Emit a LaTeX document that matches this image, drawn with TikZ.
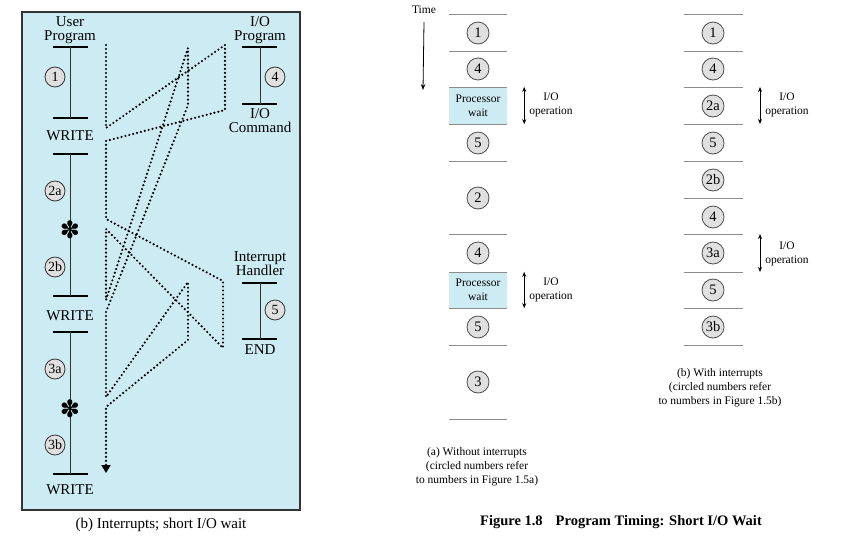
\documentclass[tikz,border=0pt]{standalone}
\usepackage{fontspec}
\setmainfont{Liberation Serif}
\newfontfamily\symfont{DejaVu Sans}
\usepackage{xcolor}
\usetikzlibrary{arrows.meta,positioning}

\definecolor{panelblue}{RGB}{205,235,243}
\definecolor{circgray}{RGB}{224,224,224}

\begin{document}
\begin{tikzpicture}[
    x=1pt, y=-1pt,
    panel/.style={draw=black!80, line width=2.2pt, fill=panelblue},
    bar/.style={line width=1.1pt},
    stem/.style={line width=0.8pt, black!80},
    tbar/.style={line width=1pt, black!45},
    lcirc/.style={circle, draw=black!80, fill=circgray, line width=0.8pt, inner sep=0pt, minimum size=20pt, font=\fontsize{14}{14}\selectfont},
    tcirc/.style={circle, draw=black!70, fill=circgray, line width=0.8pt, inner sep=0pt, minimum size=22pt, font=\fontsize{14.5}{14.5}\selectfont},
    lbl/.style={align=center, inner sep=0pt, font=\fontsize{15}{14}\selectfont},
    small/.style={align=center, inner sep=0pt, font=\fontsize{11.5}{14}\selectfont},
    flow/.style={line width=2.4pt, line cap=round, dash pattern=on 0pt off 4pt},
    span/.style={{Stealth[length=5pt,width=4pt]}-{Stealth[length=5pt,width=4pt]}, line width=0.8pt}
]
\useasboundingbox (0,0) rectangle (848,547);

% Interrupts panel
\draw[panel] (22,12) rectangle (300,510);
\node[lbl] (user) at (70,30) {User\\Program};
\node[lbl] (iop) at (260,30) {I/O\\Program};
\node[lbl] (iocmd) at (260,121) {I/O\\Command};
\node[lbl] (hdl) at (260,264) {Interrupt\\Handler};
\node[lbl] (endh) at (260,350) {END};
\node[lbl] (w1) at (70,136) {WRITE};
\node[lbl] (w2) at (70,316) {WRITE};
\node[lbl] (w3) at (70,490) {WRITE};

\foreach \y in {47,118,154,296,332,474} \draw[bar] (53,\y) -- (88,\y);
\foreach \y in {47,104,283,339} \draw[bar] (242,\y) -- (277,\y);
\draw[stem] (70,47) -- (70,118) (70,154) -- (70,296) (70,332) -- (70,474);
\draw[stem] (260,47) -- (260,104) (260,283) -- (260,339);

\node[lcirc] (c1) at (55,77) {1};
\node[lcirc] (c2a) at (55,191) {2a};
\node[lcirc] (c2b) at (55,267) {2b};
\node[lcirc] (c3a) at (55,369) {3a};
\node[lcirc] (c3b) at (55,445) {3b};
\node[lcirc] (c4) at (275,77) {4};
\node[lcirc] (c5) at (275,310) {5};
\node[inner sep=0pt, font=\symfont\fontsize{24}{24}\selectfont] (ast1) at (70,230) {✽};
\node[inner sep=0pt, font=\symfont\fontsize{24}{24}\selectfont] (ast2) at (70,409) {✽};

% Control flow
\coordinate (f0) at (106,45);  \coordinate (f1) at (106,128);
\coordinate (f2) at (225,45);  \coordinate (f3) at (225,110);
\coordinate (f4) at (106,141); \coordinate (f5) at (106,219);
\coordinate (f6) at (223,281); \coordinate (f7) at (223,348);
\coordinate (f8) at (106,229); \coordinate (f9) at (106,300);
\coordinate (f10) at (188,48); \coordinate (f11) at (188,105);
\coordinate (f12) at (106,312); \coordinate (f13) at (106,397);
\coordinate (f14) at (188,282); \coordinate (f15) at (188,340);
\coordinate (f16) at (106,407); \coordinate (f17) at (106,473);
\draw[flow] (f0) -- (f1) -- (f2) -- (f3) -- (f4) -- (f5) -- (f6) -- (f7) -- (f8) -- (f9)
    -- (f10) -- (f11) -- (f12) -- (f13) -- (f14) -- (f15) -- (f16) -- ([yshift=6pt]f17);
\draw[line width=1.8pt, -{Triangle[length=8pt,width=9pt]}] ([yshift=8pt]f17) -- (f17);

\node[lbl] (capb) at (161,525) {(b) Interrupts; short I/O wait};

% Without interrupts
\node[small] (time) at (424,10) {Time};
\coordinate (tend) at (423,90);
\draw[line width=0.8pt, -{Stealth[length=6pt,width=4.5pt]}] ([yshift=-8pt]time.south) -- (tend);
\node[small, fill=panelblue, minimum width=58pt, minimum height=37pt] (pw1) at (478,105.5) {Processor\\wait};
\node[small, fill=panelblue, minimum width=58pt, minimum height=36pt] (pw2) at (478,290) {Processor\\wait};
\foreach \y in {14,51,87,124,161,234,272,308,345,419} \draw[tbar] (449,\y) -- (507,\y);
\node[tcirc] (a1) at (478,33) {1};
\node[tcirc] (a4) at (478,69) {4};
\node[tcirc] (a5) at (478,143) {5};
\node[tcirc] (a2) at (478,198) {2};
\node[tcirc] (a4b) at (478,253) {4};
\node[tcirc] (a5b) at (478,327) {5};
\node[tcirc] (a3) at (478,382) {3};
\draw[span] ([xshift=17pt]pw1.north east) -- ([xshift=17pt]pw1.south east);
\draw[span] ([xshift=17pt]pw2.north east) -- ([xshift=17pt]pw2.south east);
\node[small] (opa1) at (551,105) {I/O\\operation};
\node[small] (opa2) at (551,290) {I/O\\operation};
\node[small] (capa) at (477,467) {(a) Without interrupts\\(circled numbers refer\\to numbers in Figure 1.5a)};

% With interrupts
\foreach \y in {14,51,87,124,161,198,234,272,308,345} \draw[tbar] (684,\y) -- (743,\y);
\node[tcirc] (b1) at (713,33) {1};
\node[tcirc] (b4) at (713,69) {4};
\node[tcirc] (b2a) at (713,106) {2a};
\node[tcirc] (b5) at (713,143) {5};
\node[tcirc] (b2b) at (713,180) {2b};
\node[tcirc] (b4b) at (713,217) {4};
\node[tcirc] (b3a) at (713,253) {3a};
\node[tcirc] (b5b) at (713,290) {5};
\node[tcirc] (b3b) at (713,327) {3b};
\coordinate (s1) at (760,87);  \coordinate (s2) at (760,124);
\coordinate (s3) at (760,234); \coordinate (s4) at (760,272);
\draw[span] (s1) -- (s2);
\draw[span] (s3) -- (s4);
\node[small] (opb1) at (787,105) {I/O\\operation};
\node[small] (opb2) at (787,254) {I/O\\operation};
\node[small] (capc) at (720,388) {(b) With interrupts\\(circled numbers refer\\to numbers in Figure 1.5b)};

\node[font=\bfseries\fontsize{14.5}{15}\selectfont, inner sep=0pt] (fig) at (621,522) {Figure 1.8\hspace{13pt}Program Timing: Short I/O Wait};
\end{tikzpicture}
\end{document}
